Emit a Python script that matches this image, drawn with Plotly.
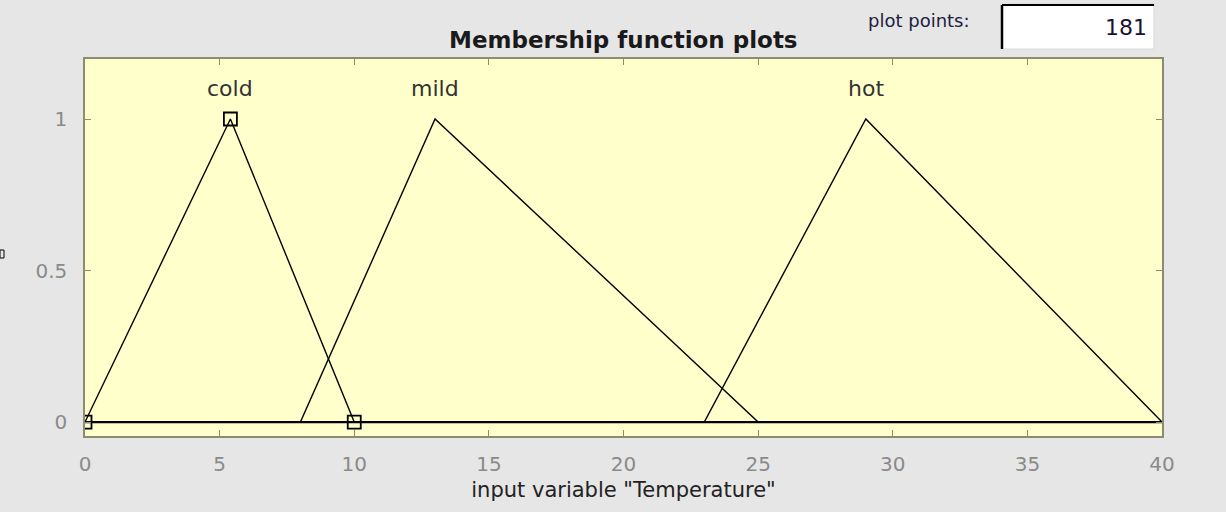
import plotly.graph_objects as go

# Membership function parameters (triangular: a, b, c)
mf_names = ["cold", "mild", "hot"]
mf_a = [0.0, 8.0, 23.0]
mf_b = [5.4, 13.0, 29.0]
mf_c = [10.0, 25.0, 40.0]
x_min, x_max = 0, 40
x_ticks = [0, 5, 10, 15, 20, 25, 30, 35, 40]
y_ticks = [0, 0.5, 1]
y_tick_text = ["0", "0.5", "1"]
selected_mf = "cold"
plot_points = 181

W, H = 1226, 512
ML, MR, MT, MB = 85, 64, 59, 76
PW, PH = W - ML - MR, H - MT - MB

def px(x):
    return (x - ML) / PW

def py(y):
    return (H - MB - y) / PH

FONT = "DejaVu Sans, Verdana, sans-serif"
frame = "#8c8c74"
tickc = "#8a8a8a"

fig = go.Figure()
for name, a, b, c in zip(mf_names, mf_a, mf_b, mf_c):
    xs = [x_min, a, b, c, x_max]
    ys = [0, 0, 1, 0, 0]
    fig.add_trace(go.Scatter(x=xs, y=ys, mode="lines",
                             line=dict(color="black", width=1.4),
                             showlegend=False, hoverinfo="skip", cliponaxis=True))
# baseline drawn thicker (all MFs overlap at zero)
fig.add_trace(go.Scatter(x=[x_min, x_max], y=[0, 0], mode="lines",
                         line=dict(color="black", width=2.2),
                         showlegend=False, hoverinfo="skip"))
# selected MF vertices
i = mf_names.index(selected_mf)
fig.add_trace(go.Scatter(x=[mf_a[i], mf_b[i], mf_c[i]], y=[0, 1, 0], mode="markers",
                         marker=dict(symbol="square-open", size=13,
                                     color="black", line=dict(width=1.8)),
                         showlegend=False, hoverinfo="skip", cliponaxis=True))

annotations = []
for name, b in zip(mf_names, mf_b):
    annotations.append(dict(x=b, y=1.1, xref="x", yref="y", text=name,
                            showarrow=False, font=dict(family=FONT, size=22, color="#333333"),
                            xanchor="center", yanchor="middle"))
annotations.append(dict(x=px(623), y=py(40), xref="paper", yref="paper",
                        text="<b>Membership function plots</b>", showarrow=False,
                        font=dict(family=FONT, size=23, color="#1a1a1a"),
                        xanchor="center", yanchor="middle"))
annotations.append(dict(x=px(919), y=py(21), xref="paper", yref="paper",
                        text="plot points:", showarrow=False,
                        font=dict(family=FONT, size=18, color="#202040"),
                        xanchor="center", yanchor="middle"))
annotations.append(dict(x=px(1149), y=py(28), xref="paper", yref="paper",
                        text=str(plot_points), showarrow=False,
                        font=dict(family=FONT, size=22, color="#201030"),
                        xanchor="right", yanchor="middle"))

shapes = [
    dict(type="rect", xref="paper", yref="paper", x0=px(1002), x1=px(1154),
         y0=py(49), y1=py(4), fillcolor="white", line=dict(color="#d8d8d8", width=1)),
    dict(type="line", xref="paper", yref="paper", x0=px(1002), x1=px(1154),
         y0=py(5), y1=py(5), line=dict(color="black", width=2)),
    dict(type="line", xref="paper", yref="paper", x0=px(1002), x1=px(1002),
         y0=py(49), y1=py(5), line=dict(color="black", width=2.5)),
    dict(type="rect", xref="paper", yref="paper", x0=px(0), x1=px(4),
         y0=py(258), y1=py(250), line=dict(color="black", width=1), fillcolor="rgba(0,0,0,0)"),
]

fig.update_layout(
    width=W, height=H,
    margin=dict(l=ML, r=MR, t=MT, b=MB),
    paper_bgcolor="#e6e6e6",
    plot_bgcolor="#ffffcc",
    annotations=annotations,
    shapes=shapes,
    xaxis=dict(range=[x_min, x_max], tickvals=x_ticks, ticks="inside", ticklen=6,
               tickcolor=frame, showline=True, linecolor=frame, linewidth=1.5,
               mirror="allticks", showgrid=False, zeroline=False,
               ticklabelstandoff=9,
               tickfont=dict(family=FONT, size=20, color=tickc),
               title=dict(text='input variable "Temperature"',
                          font=dict(family=FONT, size=21, color="#222222"), standoff=8)),
    yaxis=dict(range=[-0.046, 1.198], tickvals=y_ticks, ticktext=y_tick_text,
               ticks="inside", ticklen=6, tickcolor=frame, showline=True,
               linecolor=frame, linewidth=1.5, mirror="allticks", showgrid=False,
               ticklabelstandoff=12,
               zeroline=False, tickfont=dict(family=FONT, size=20, color=tickc)),
)

fig.write_html("out.html", config={"displayModeBar": False},
               post_script="document.body.style.margin='0px';document.body.style.overflow='hidden';")
